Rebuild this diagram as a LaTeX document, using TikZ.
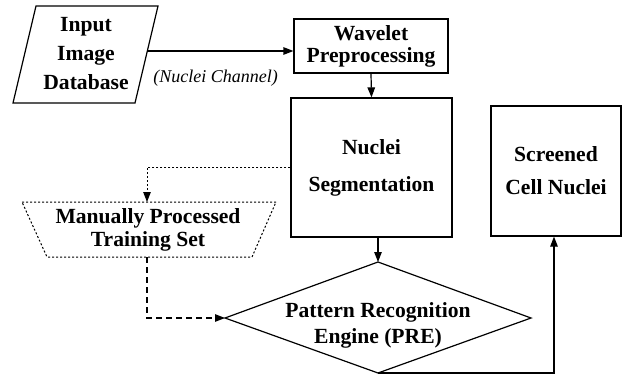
\documentclass[tikz,border=0pt]{standalone}
\usepackage{fontspec}
\setmainfont{Liberation Serif}
\usetikzlibrary{arrows.meta}
\begin{document}
\begin{tikzpicture}[x=1pt,y=-1pt,line width=1.2pt,
  lbl/.style={font=\bfseries\fontsize{21.6}{#1}\selectfont,align=center,inner sep=0pt},
  box/.style={draw,inner sep=0pt},
  arr/.style={-{Triangle[length=10pt,width=7.5pt]}},
  dotline/.style={dash pattern=on 2pt off 2pt,line width=1pt},
  dashline/.style={dash pattern=on 6pt off 4pt,line width=1.1pt}]
\useasboundingbox (0,0) rectangle (623,377);

% input database (parallelogram)
\coordinate (db-nw) at (36,6);
\coordinate (db-ne) at (158,6);
\coordinate (db-se) at (135,103);
\coordinate (db-sw) at (13,103);
\coordinate (db-out) at (147.3,51);
\draw (db-nw) -- (db-ne) -- (db-se) -- (db-sw) -- cycle;
\node[lbl=29] (db) at (86,53.7) {Input\\Image\\Database};

% processing boxes
\node[box,lbl=22,minimum width=154pt,minimum height=54pt] (wav) at (371,46) {Wavelet\\Preprocessing};
\node[box,lbl=37,minimum width=161pt,minimum height=139pt] (seg) at (371.5,167.5) {Nuclei\\Segmentation};
\node[box,lbl=33,minimum width=130pt,minimum height=130pt] (scr) at (556,171) {Screened\\Cell Nuclei};

% training set (inverted trapezium, dotted)
\coordinate (tr-nw) at (22,202);
\coordinate (tr-ne) at (276,202);
\coordinate (tr-se) at (252,257);
\coordinate (tr-sw) at (47,257);
\coordinate (tr-top) at (147,202);
\coordinate (tr-bot) at (147,257);
\draw[dotline] (tr-nw) -- (tr-ne) -- (tr-se) -- (tr-sw) -- cycle;
\node[lbl=23] (tr) at (148,229.5) {Manually Processed\\Training Set};

% pattern recognition engine (diamond)
\coordinate (dm-w) at (225,318);
\coordinate (dm-n) at (378,262);
\coordinate (dm-e) at (531,318);
\coordinate (dm-s) at (378,373);
\draw (dm-w) -- (dm-n) -- (dm-e) -- (dm-s) -- cycle;
\node[lbl=26] (dm) at (378,325) {Pattern Recognition\\Engine (PRE)};

% connectors
\draw[arr] (db-out) -- (db-out -| wav.west);
\node[font=\itshape\fontsize{18}{20}\selectfont,inner sep=0pt] (ch) at (215.5,78.4) {(Nuclei Channel)};
\draw[arr] (wav.south) -- (seg.north);
\draw[arr,dotline] (seg.west) -| (tr-top);
\draw[arr,dashline] (tr-bot) |- (dm-w);
\draw[arr] (seg.south -| dm-n) -- (dm-n);
\draw[arr] (dm-s) -| ([xshift=-2pt]scr.south);
\end{tikzpicture}
\end{document}
